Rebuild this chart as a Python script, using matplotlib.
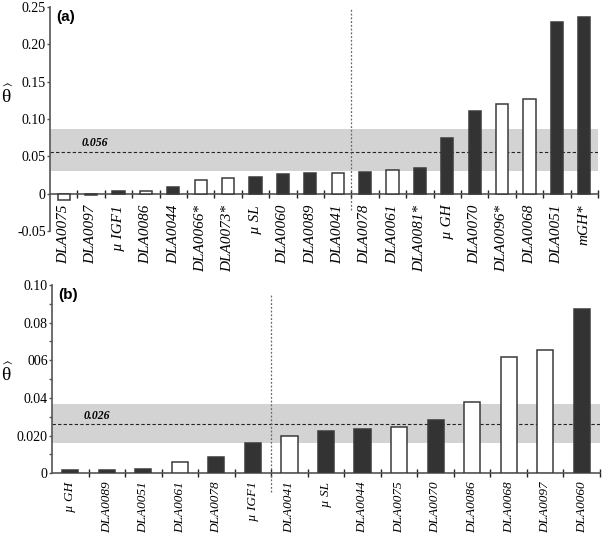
import matplotlib
matplotlib.use("Agg")
import matplotlib.pyplot as plt
import numpy as np

plt.rcParams['mathtext.fontset'] = 'custom'
plt.rcParams['mathtext.rm'] = 'Liberation Serif'
plt.rcParams['mathtext.it'] = 'Liberation Serif'

# ---- data panel (a)
cats_a = ['DLA0075', 'DLA0097', 'µ IGF1', 'DLA0086', 'DLA0044', 'DLA0066*', 'DLA0073*',
          'µ SL', 'DLA0060', 'DLA0089', 'DLA0041', 'DLA0078', 'DLA0061', 'DLA0081*',
          'µ GH', 'DLA0070', 'DLA0096*', 'DLA0068', 'DLA0051', 'mGH*']
vals_a = [-0.008, -0.002, 0.003, 0.004, 0.009, 0.018, 0.021, 0.022, 0.027, 0.028,
          0.028, 0.029, 0.032, 0.034, 0.074, 0.111, 0.120, 0.127, 0.230, 0.236]
dark_a = [0, 1, 1, 0, 1, 0, 0, 1, 1, 1, 0, 1, 0, 1, 1, 1, 0, 0, 1, 1]
band_a = (0.031, 0.087)
mean_a = 0.056
split_a = 10.5
yticks_a = [-0.05, 0, 0.05, 0.10, 0.15, 0.20, 0.25]
yticklabels_a = ['-0.05', '0', '0.05', '0.10', '0.15', '0.20', '0.25']

# ---- data panel (b)
cats_b = ['µ GH', 'DLA0089', 'DLA0051', 'DLA0061', 'DLA0078', 'µ IGF1', 'DLA0041',
          'µ SL', 'DLA0044', 'DLA0075', 'DLA0070', 'DLA0086', 'DLA0068', 'DLA0097', 'DLA0060']
vals_b = [0.0016, 0.002, 0.0022, 0.006, 0.0089, 0.016, 0.0198, 0.0223, 0.0235,
          0.0246, 0.0281, 0.0377, 0.0618, 0.0655, 0.0873]
dark_b = [1, 1, 1, 0, 1, 1, 0, 1, 1, 0, 1, 0, 0, 0, 1]
band_b = (0.016, 0.0366)
mean_b = 0.026
split_b = 5.5
yticks_b = [0, 0.02, 0.04, 0.06, 0.08, 0.10]
yticklabels_b = ['0', '0.020', '0.04', '006', '0.08', '0.10']

DARK = '#333333'
EDGE = '#3a3a3a'
AX = '#555555'
serif = ['Liberation Serif', 'DejaVu Serif']

fig = plt.figure(figsize=(6.02, 5.33), dpi=100)
ax_a = fig.add_axes([50/602, 1-231/533, 548/602, 224/533])
ax_b = fig.add_axes([52/602, 1-473.3/533, 548/602, 188.3/533])


def draw(ax, cats, vals, dark, band, mean, split, yt, ytl, ylim, vline, label, ylab_y,
         xfs, xpad, minor_y=None):
    n = len(cats)
    x = np.arange(n)
    fc = [DARK if d else 'white' for d in dark]
    ax.bar(x, vals, width=0.44, color=fc, edgecolor=EDGE, linewidth=1.1, zorder=3)
    ax.axhspan(band[0], band[1], color='#d3d3d3', zorder=0, lw=0)
    ax.axhline(mean, color='#222222', ls=(0, (3, 2)), lw=0.8, zorder=2)
    ax.text(32/548, mean + (ylim[1]-ylim[0])*0.012, f'{mean:.3f}', fontsize=8.5,
            fontweight='bold', style='italic', family=serif, ha='left', va='bottom', zorder=4,
            transform=ax.get_yaxis_transform())
    ax.plot([split, split], vline, color='#666666', ls=(0, (1.5, 1.5)), lw=0.9,
            clip_on=False, zorder=2)
    ax.set_xlim(-0.5, n - 0.5)
    ax.set_ylim(*ylim)
    for s in ['top', 'right']:
        ax.spines[s].set_visible(False)
    ax.spines['bottom'].set_position(('data', 0))
    ax.spines['bottom'].set_color(AX)
    ax.spines['left'].set_color(AX)
    ax.spines['bottom'].set_linewidth(1.2)
    ax.spines['left'].set_linewidth(1.2)
    ax.set_yticks(yt)
    ax.set_yticklabels(ytl, family=serif, fontsize=10)
    ax.tick_params(axis='y', direction='out', length=2.5, color=AX, width=1, pad=0.5)
    if minor_y is not None:
        ax.set_yticks(minor_y, minor=True)
        ax.tick_params(axis='y', which='minor', length=2.5, color=AX, width=1)
    ax.set_xticks(np.arange(n) + 0.5)
    ax.set_xticklabels([])
    ax.tick_params(axis='x', which='major', direction='inout', length=6, color='#222222', width=1)
    ax.set_xticks(x, minor=True)
    ax.set_xticklabels(cats, minor=True, rotation=90, family=serif, style='italic', fontsize=xfs)
    ax.tick_params(axis='x', which='minor', length=0, pad=xpad)
    ax.text(0.012, 0.985, label, transform=ax.transAxes, fontsize=11, fontweight='bold',
            family=['Liberation Sans', 'DejaVu Sans'], ha='left', va='top')
    fig.text(7/602, 1 - ylab_y/533, r'$\widehat{\theta}$', fontsize=14, ha='center',
             va='center')


draw(ax_a, cats_a, vals_a, dark_a, band_a, mean_a, split_a, yticks_a, yticklabels_a,
     (-0.05, 0.25), (-0.022, 0.248), '(a)', 96, 11, 8)
ax_a.spines['left'].set_bounds(-0.05, 0.25)
draw(ax_b, cats_b, vals_b, dark_b, band_b, mean_b, split_b, yticks_b, yticklabels_b,
     (0, 0.10), (-0.010, 0.0945), '(b)', 374, 9.5, 6,
     minor_y=[0.01, 0.03, 0.05, 0.07, 0.09])

fig.savefig('out.png', dpi=100)
